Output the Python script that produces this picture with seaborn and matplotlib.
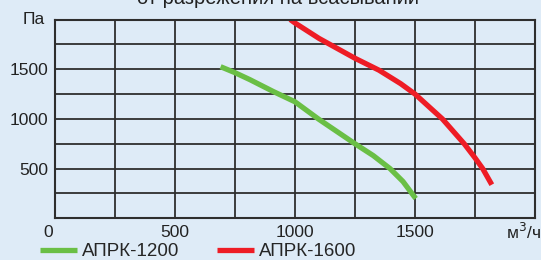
import pandas as pd
import seaborn as sns
import matplotlib.pyplot as plt
from matplotlib.ticker import MultipleLocator

# curve points (flow m3/h, pressure Pa)
FLOW_1200 = [690, 750, 812, 910, 1000, 1097, 1250, 1326, 1396, 1450, 1503]
PRESS_1200 = [1525, 1465, 1395, 1275, 1172, 1000, 750, 631, 500, 370, 199]

FLOW_1600 = [980, 1000, 1100, 1250, 1350, 1440, 1500, 1614, 1705, 1750, 1782, 1820]
PRESS_1600 = [2000, 1965, 1810, 1610, 1490, 1355, 1250, 1000, 750, 608, 500, 338]

NAMES = ['АПРК-1200', 'АПРК-1600']
COLORS = ['#6abf45', '#ee1c25']

X_TICKS = [500, 1000, 1500]
Y_TICKS = [500, 1000, 1500]

BG = '#deebf7'
GRIDC = '#2e2e2e'
FONTSIZE = 12.5

df = pd.concat([
    pd.DataFrame({'flow': FLOW_1200, 'p': PRESS_1200, 'model': NAMES[0]}),
    pd.DataFrame({'flow': FLOW_1600, 'p': PRESS_1600, 'model': NAMES[1]}),
])

sns.set_style('white')
plt.rcParams['font.family'] = ['Liberation Sans', 'DejaVu Sans']

fig = plt.figure(figsize=(5.41, 2.60), dpi=100, facecolor=BG)
ax = fig.add_axes([55 / 541, 41.7 / 260, 480 / 541, 198.8 / 260])
ax.set_facecolor(BG)

sns.lineplot(data=df, x='flow', y='p', hue='model', palette=COLORS, sort=False,
             linewidth=3.8, solid_capstyle='butt', ax=ax, legend=True)

ax.set_xlim(0, 2000)
ax.set_ylim(0, 2000)
ax.xaxis.set_major_locator(MultipleLocator(250))
ax.yaxis.set_major_locator(MultipleLocator(250))
ax.grid(True, color=GRIDC, linewidth=1.3)
ax.set_axisbelow(True)
for s in ax.spines.values():
    s.set_color(GRIDC)
    s.set_linewidth(1.5)

ax.set_xticklabels(['' if v not in X_TICKS else str(int(v)) for v in ax.get_xticks()])
ax.set_yticklabels(['' if v not in Y_TICKS else str(int(v)) for v in ax.get_yticks()])
ax.tick_params(length=0, labelsize=FONTSIZE, colors='#222222', pad=5)
ax.set_xlabel('')
ax.set_ylabel('')

ax.text(-0.015, -0.07, '0', transform=ax.transAxes, ha='center', va='center',
        fontsize=FONTSIZE, color='#222222')
fig.text(34 / 541, 1 - 20 / 260, 'Па', ha='center', va='center', fontsize=FONTSIZE, color='#222222')
fig.text(524 / 541, 1 - 232 / 260, 'м$^3$/ч', ha='center', va='center', fontsize=FONTSIZE, color='#222222')
fig.text(278 / 541, 1 - 3.5 / 260, 'от разрежения на всасывании', ha='center', va='baseline',
         fontsize=14.5, color='#222222')

ax.legend(loc='center left', bbox_to_anchor=(40 / 541, 1 - 251.5 / 260), bbox_transform=fig.transFigure,
          ncol=2, frameon=False, fontsize=13.5, handlelength=1.95, handletextpad=0.3,
          columnspacing=2.0, borderaxespad=0, borderpad=0)

fig.savefig('out.png', dpi=100, facecolor=BG)
